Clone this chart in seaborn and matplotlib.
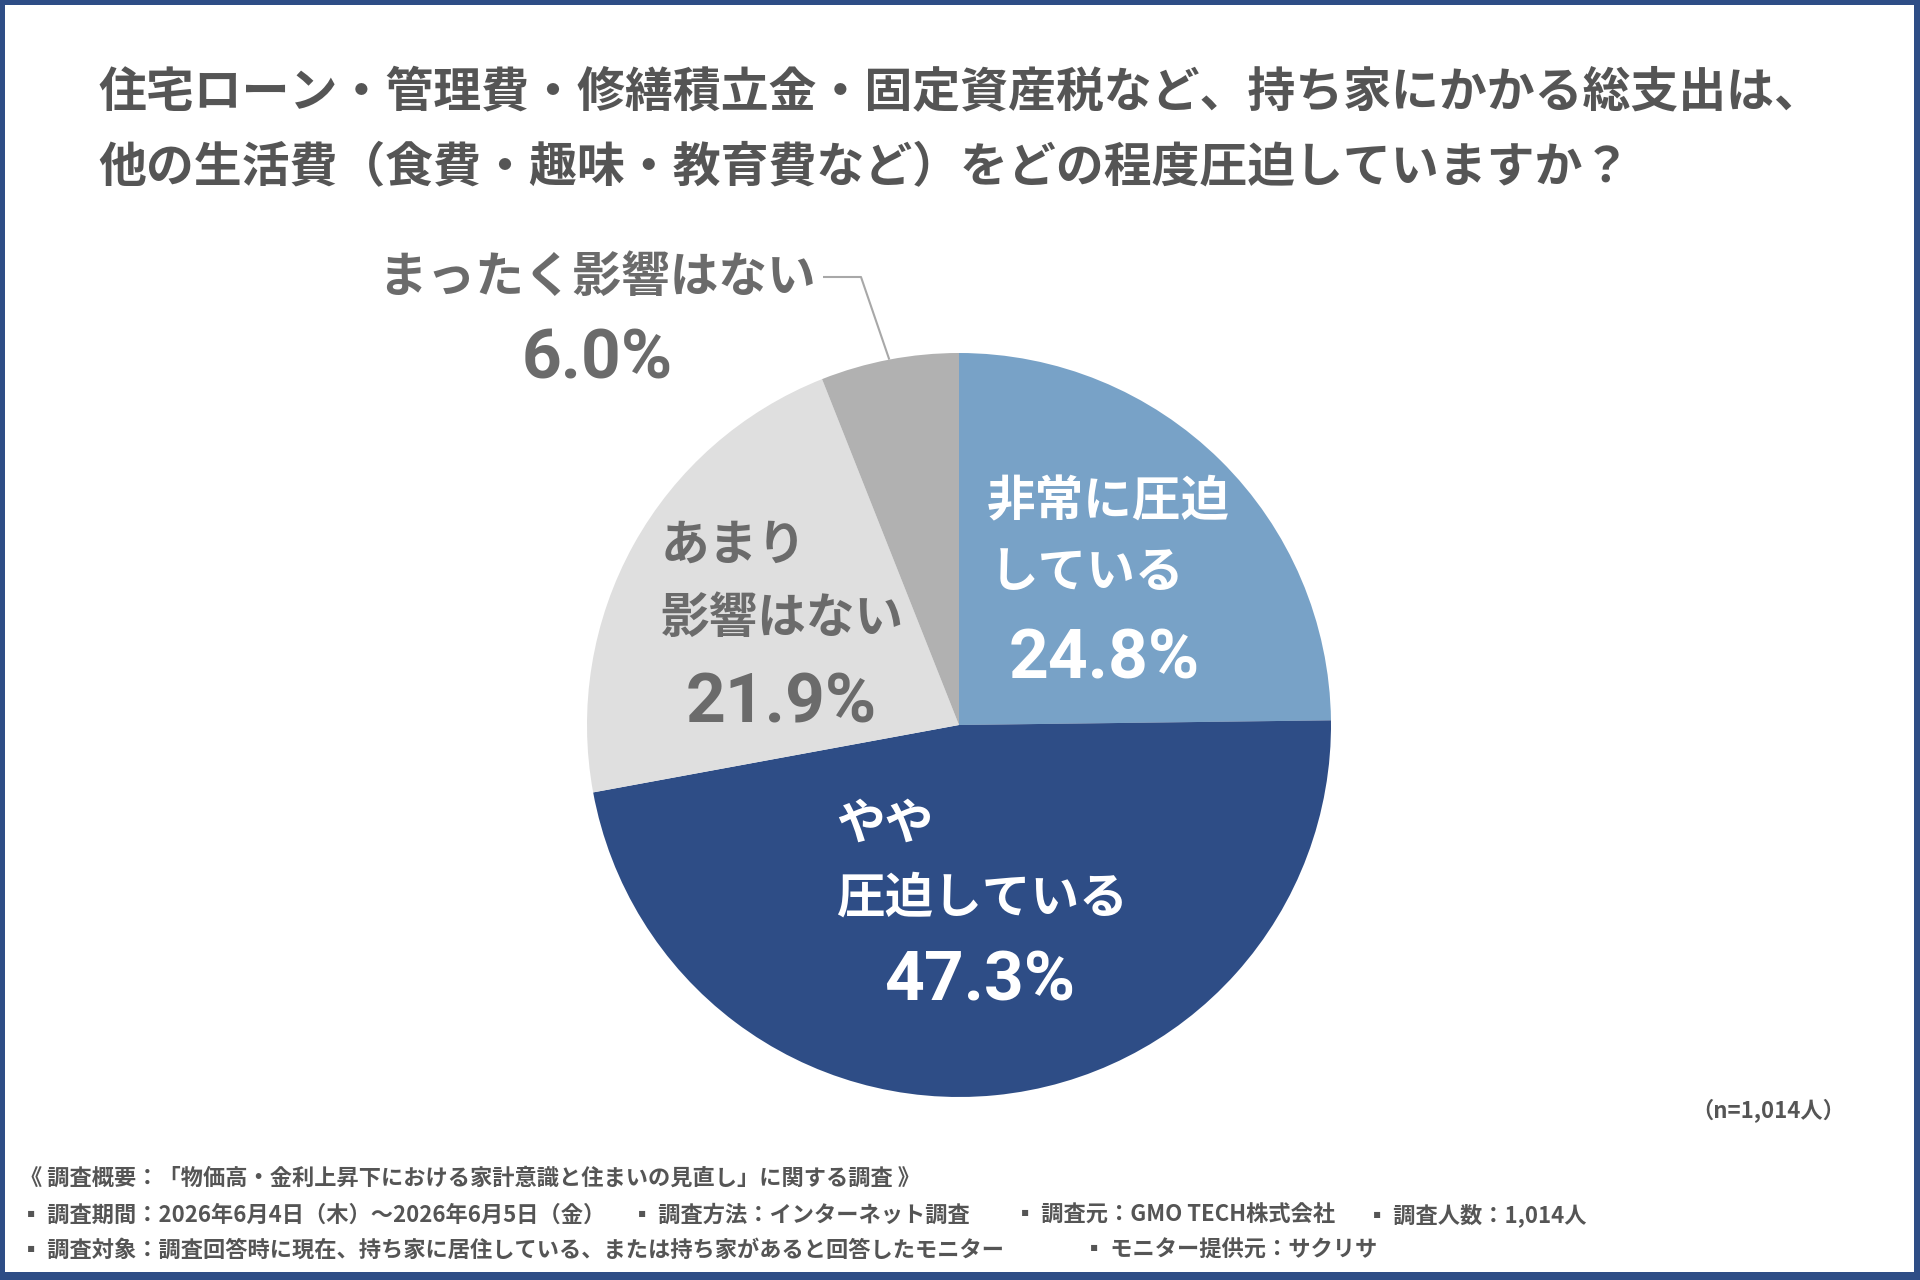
import matplotlib
matplotlib.use("Agg")
import matplotlib.pyplot as plt
import seaborn as sns
import numpy as np
from matplotlib.patches import Rectangle

# ---------------- data ----------------
categories = ["非常に圧迫している", "やや圧迫している", "あまり影響はない", "まったく影響はない"]
label_lines = [["非常に圧迫", "している"], ["やや", "圧迫している"], ["あまり", "影響はない"], ["まったく影響はない"]]
values = [24.8, 47.3, 21.9, 6.0]
title_lines = [
    "住宅ローン・管理費・修繕積立金・固定資産税など、持ち家にかかる総支出は、",
    "他の生活費（食費・趣味・教育費など）をどの程度圧迫していますか？",
]
n_label = "（n=1,014人）"
footer_line1 = "《 調査概要：「物価高・金利上昇下における家計意識と住まいの見直し」に関する調査 》"
footer_line2 = ["▪ 調査期間：2026年6月4日（木）～2026年6月5日（金）", "▪ 調査方法：インターネット調査",
                "▪ 調査元：GMO TECH株式会社", "▪ 調査人数：1,014人"]
footer_line3 = ["▪ 調査対象：調査回答時に現在、持ち家に居住している、または持ち家があると回答したモニター",
                "▪ モニター提供元：サクリサ"]

# ---------------- style ----------------
sns.set_theme(style="white")
plt.rcParams['font.family'] = ['Noto Sans CJK JP', 'DejaVu Sans']

colors = sns.color_palette(["#78a2c7", "#2e4d86", "#dfdfdf", "#b1b1b1"])
text_colors = ["white", "white", "#6b6b6b", "#6b6b6b"]
title_color = "#555555"
frame_color = "#2e4d86"

W, H = 1920, 1280
fig = plt.figure(figsize=(W / 100, H / 100), dpi=100)
fig.patch.set_facecolor("white")


def fp(x, y):
    return (x / W, 1 - y / H)


# frame
for (x0, y0, w, h) in [(0, 0, W, 5), (0, 0, 5, H), (W - 6, 0, 6, H), (0, H - 8, W, 8)]:
    fig.patches.append(Rectangle((x0 / W, 1 - (y0 + h) / H), w / W, h / H,
                                 transform=fig.transFigure, facecolor=frame_color,
                                 edgecolor="none", zorder=10))

# title
for i, line in enumerate(title_lines):
    fig.text(*fp(98, 93 + i * 75), line, fontsize=34.5, fontweight="bold",
             color=title_color, ha="left", va="center")

# pie
cx, cy, R = 959, 725, 372
ax = fig.add_axes([(cx - R) / W, (H - cy - R) / H, 2 * R / W, 2 * R / H])
wedges, _ = ax.pie(values, colors=colors, startangle=90, counterclock=False, radius=1,
                   wedgeprops=dict(linewidth=0))
ax.set_xlim(-1, 1)
ax.set_ylim(-1, 1)
ax.set_aspect("equal")
ax.axis("off")

lab_fs = 35
pct_fs = 50
pct_font = ['Roboto', 'DejaVu Sans']

# label positions (pixel centres)
line_pos = [
    [(987, 502), (990, 573)],
    [(836, 824), (836, 898)],
    [(661, 545), (661, 618)],
    [(597, 277)],
]
pct_pos = [(1104, 660), (980, 982), (781, 704), (597, 360)]

for k in range(len(values)):
    for j, line in enumerate(label_lines[k]):
        x, y = line_pos[k][j]
        ha = "center" if k == 3 else "left"
        fig.text(*fp(x, y), line, fontsize=lab_fs, fontweight="bold",
                 color=text_colors[k], ha=ha, va="center")
    fig.text(*fp(*pct_pos[k]), f"{values[k]:.1f}%", fontsize=pct_fs, fontweight="bold",
             family=pct_font, color=text_colors[k], ha="center", va="center")

# leader line for the small slice
w = wedges[3]
mid = np.deg2rad((w.theta1 + w.theta2) / 2)
ex, ey = np.cos(mid), np.sin(mid)
elbow = ((861 - cx) / R, (cy - 277) / R)
start = ((823 - cx) / R, (cy - 277) / R)
ax.plot([start[0], elbow[0], ex], [start[1], elbow[1], ey], color="#a8a8a8",
        lw=1.5, clip_on=False, solid_capstyle="butt")

# n label
fig.text(*fp(1845, 1111), n_label, fontsize=16, fontweight="bold", color=title_color,
         ha="right", va="center")

# footer
ffs = 16
fig.text(*fp(20, 1178), footer_line1, fontsize=ffs, fontweight="bold", color=title_color,
         ha="left", va="center")
for x, t in zip([20, 631, 1014, 1366], footer_line2):
    fig.text(*fp(x, 1215), t, fontsize=ffs, fontweight="bold", color=title_color,
             ha="left", va="center")
for x, t in zip([20, 1083], footer_line3):
    fig.text(*fp(x, 1250), t, fontsize=ffs, fontweight="bold", color=title_color,
             ha="left", va="center")

fig.savefig("out.png", dpi=100, facecolor="white")
